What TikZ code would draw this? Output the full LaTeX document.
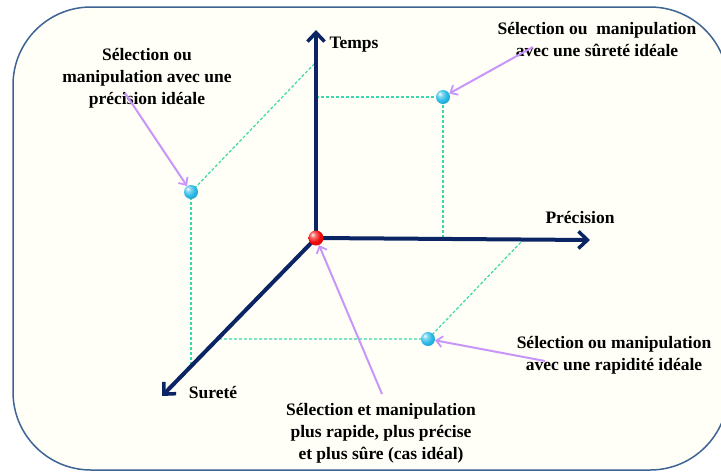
\documentclass[tikz,border=0pt]{standalone}
\usepackage{fontspec}
\setmainfont{Liberation Serif}
\usetikzlibrary{arrows.meta}
\definecolor{bgfill}{RGB}{255,255,247}
\definecolor{framec}{RGB}{62,100,148}
\definecolor{axisc}{RGB}{10,36,100}
\definecolor{dashc}{RGB}{60,215,170}
\definecolor{pinkc}{RGB}{200,150,250}
\definecolor{cyanb}{RGB}{40,185,230}
\definecolor{redb}{RGB}{240,10,10}
\pgfdeclareradialshading{cyanball}{\pgfqpoint{-12bp}{12bp}}{color(0bp)=(white); color(8bp)=(cyanb!55!white); color(22bp)=(cyanb); color(45bp)=(cyanb!75!black); color(65bp)=(cyanb!50!black)}
\pgfdeclareradialshading{redball}{\pgfqpoint{-12bp}{12bp}}{color(0bp)=(white); color(8bp)=(redb!55!white); color(22bp)=(redb); color(45bp)=(redb!80!black); color(65bp)=(redb!55!black)}
\tikzset{
  frame/.style={draw=framec, line width=1.5pt, fill=bgfill},
  axis/.style={draw=axisc, line width=4pt, -{Straight Barb[length=9pt,width=17pt,line width=3.5pt]}},
  guide/.style={draw=dashc, line width=1.2pt, dash pattern=on 3pt off 2pt},
  ptr/.style={draw=pinkc, line width=2pt, -{Straight Barb[length=6pt,width=11pt,line width=1.8pt]}},
  ball/.style={circle, inner sep=0pt, minimum size=14pt, shading=cyanball},
  redballst/.style={circle, inner sep=0pt, minimum size=15pt, shading=redball},
  lbl/.style={font=\fontsize{17.5}{22}\selectfont\bfseries, inner sep=0pt},
  txt/.style={font=\fontsize{17.5}{22}\selectfont\bfseries, align=center, inner sep=0pt}
}
\begin{document}
\begin{tikzpicture}[x=1pt,y=-1pt]
\useasboundingbox (0,0) rectangle (721,472);
\begin{scope}
\clip (0,0) rectangle (721,472);
\draw[frame, rounded corners=78pt] (13,7) rectangle (728,470);
\end{scope}
% coordinates
\coordinate (O) at (316,238);
\coordinate (Tend) at (316,30);
\coordinate (Pend) at (590,240);
\coordinate (Send) at (162,396);
\coordinate (A) at (191,192);
\coordinate (B) at (443,97);
\coordinate (C) at (428,339);
\coordinate (aT) at (316,62);
\coordinate (aS) at (191,364);
\coordinate (bT) at (316,97);
\coordinate (bP) at (443,240);
\coordinate (cS) at (219,339);
\coordinate (cP) at (523,240);
% guides
\draw[guide] (A) -- (aT);
\draw[guide] (A) -- (aS);
\draw[guide] (bT) -- (B) -- (bP);
\draw[guide] (cS) -- (C) -- (cP);
% axes
\draw[axis] (O) -- (Tend);
\draw[axis] (O) -- (Pend);
\draw[axis] (O) -- (Send);
% balls
\node[redballst] (o) at (O) {};
\node[ball] (a) at (A) {};
\node[ball] (b) at (B) {};
\node[ball] (c) at (C) {};
% axis labels
\node[lbl] (lT) at (354,45) {Temps};
\node[lbl] (lP) at (580,218) {Précision};
\node[lbl] (lS) at (213,393) {Sureté};
% texts
\node[txt] (ta) at (147,78) {Sélection ou\\manipulation avec une\\précision idéale};
\node[txt] (tb) at (597,40) {Sélection ou\ \ manipulation\\avec une sûreté idéale};
\node[txt] (tc) at (614,355) {Sélection ou manipulation\\avec une rapidité idéale};
\node[txt] (td) at (381,433) {Sélection et manipulation\\plus rapide, plus précise\\et plus sûre (cas idéal)};
% pointers
\coordinate (pa) at (125,93);
\coordinate (pb) at (533,47);
\coordinate (pc) at (545,361);
\coordinate (pd) at (382,394);
\draw[ptr] (pa) -- (a);
\draw[ptr] (pb) -- (b);
\draw[ptr] (pc) -- (c);
\draw[ptr] (pd) -- (o);
\end{tikzpicture}
\end{document}
